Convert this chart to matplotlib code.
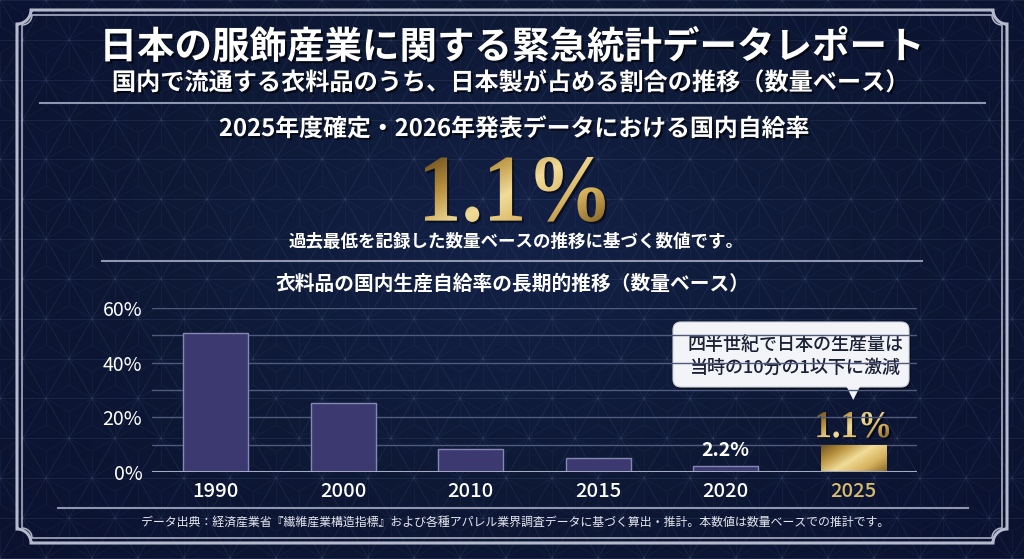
import numpy as np
import matplotlib
matplotlib.use('Agg')
import matplotlib.pyplot as plt
import matplotlib.patches as patches
import matplotlib.patheffects as pe
from matplotlib.collections import LineCollection
from matplotlib.textpath import TextPath
from matplotlib.font_manager import FontProperties
from matplotlib.path import Path
from matplotlib.colors import LinearSegmentedColormap

plt.rcParams['font.family'] = ['Noto Sans CJK JP', 'DejaVu Sans']

# data
years = ['1990', '2000', '2010', '2015', '2020', '2025']
rates = [51.0, 25.2, 8.3, 5.2, 2.2, 1.1]
# the 2025 bar is drawn taller than its value in the original (highlight)
bar_heights = [51.0, 25.2, 8.3, 5.2, 2.2, 10.0]
y_ticks = [0, 20, 40, 60]
y_minor = [10, 30, 50]

title = '日本の服飾産業に関する緊急統計データレポート'
subtitle = '国内で流通する衣料品のうち、日本製が占める割合の推移（数量ベース）'
headline = '2025年度確定・2026年発表データにおける国内自給率'
big_value = '1.1%'
headline_note = '過去最低を記録した数量ベースの推移に基づく数値です。'
chart_title = '衣料品の国内生産自給率の長期的推移（数量ベース）'
callout = ['四半世紀で日本の生産量は', '当時の10分の1以下に激減']
source = 'データ出典：経済産業省『繊維産業構造指標』および各種アパレル業界調査データに基づく算出・推計。本数値は数量ベースでの推計です。'

W, H = 1024, 559
bg = '#0e1936'
frame_col = '#b4b9cb'
bar_col = '#3b3970'
bar_edge = '#8588b2'
gold_label = '#d8bd6e'

gold = LinearSegmentedColormap.from_list(
    'gold', ['#6e5020', '#b8913e', '#f1dc98', '#d6b25e', '#8a6728'])
yy, xx = np.mgrid[0:1:60j, 0:1:120j]
grad = (xx * 0.6 + yy * 0.4)

serif = FontProperties(family='Liberation Serif', weight='bold')

fig = plt.figure(figsize=(W / 100, H / 100), dpi=100)
fig.patch.set_facecolor(bg)

ax_bg = fig.add_axes([0, 0, 1, 1])
ax_bg.set_xlim(0, W)
ax_bg.set_ylim(H, 0)
ax_bg.axis('off')

# soft radial glow
ry, rx = np.mgrid[0:1:60j, 0:1:100j]
r = np.sqrt((rx - 0.5) ** 2 + ((ry - 0.45) * 0.8) ** 2)
glow = LinearSegmentedColormap.from_list('glow', ['#132146', '#0e1936', '#0a1230'])
ax_bg.imshow(r, cmap=glow, extent=(0, W, H, 0), aspect='auto', zorder=0)

# asanoha pattern
s = 46.0
h = s * np.sqrt(3) / 2
segs = []
for j in range(-1, int(H / h) + 2):
    off = (j % 2) * s / 2
    for i in range(-2, int(W / s) + 2):
        A = np.array([i * s + off, j * h])
        B = np.array([i * s + off + s, j * h])
        C = np.array([i * s + off + s / 2, (j + 1) * h])
        D = np.array([i * s + off + 3 * s / 2, (j + 1) * h])
        for tri in [(A, B, C), (B, D, C)]:
            cen = sum(tri) / 3
            for k in range(3):
                segs.append([tri[k], tri[(k + 1) % 3]])
                segs.append([tri[k], cen])
ax_bg.add_collection(LineCollection(segs, colors='#8a9cd0', alpha=0.07, linewidths=0.6, zorder=1))


def frame_poly(x0, y0, x1, y1, rr):
    def arc(cx, cy, t0, t1):
        t = np.linspace(t0, t1, 12)
        return np.column_stack([cx + rr * np.cos(t), cy + rr * np.sin(t)])
    pts = np.vstack([
        arc(x0, y0, np.pi / 2, 0),
        arc(x1, y0, np.pi, np.pi / 2),
        arc(x1, y1, 3 * np.pi / 2, np.pi),
        arc(x0, y1, 0, -np.pi / 2),
    ])
    return patches.Polygon(pts, closed=True, fill=False)


outer = frame_poly(17, 10, 1007, 543, 14)
outer.set(edgecolor=frame_col, linewidth=2.2, zorder=2)
inner = frame_poly(22, 15, 1002, 538, 10)
inner.set(edgecolor=frame_col, linewidth=1.1, zorder=2)
ax_bg.add_patch(outer)
ax_bg.add_patch(inner)

# separators
ax_bg.plot([40, 985], [103, 103], color='#8e96b0', lw=1.5, zorder=2)
ax_bg.plot([102, 922], [261, 261], color='#8e96b0', lw=1.5, zorder=2)
ax_bg.plot([58, 968], [508, 508], color='#8e96b0', lw=1.5, zorder=2)

shadow = [pe.SimplePatchShadow(offset=(1.5, -1.5), shadow_rgbFace='black', alpha=0.6), pe.Normal()]

ax_bg.text(512, 47, title, color='white', fontsize=27, fontweight='bold',
           ha='center', va='center', path_effects=shadow, zorder=5)
ax_bg.text(510, 83, subtitle, color='white', fontsize=17.4, fontweight='bold',
           ha='center', va='center', path_effects=shadow, zorder=5)
ax_bg.text(514, 129, headline, color='white', fontsize=17.2, fontweight='bold',
           ha='center', va='center', path_effects=shadow, zorder=5)
ax_bg.text(516, 242, headline_note, color='white', fontsize=12.6, fontweight='bold',
           ha='center', va='center', zorder=5)
ax_bg.text(513, 284, chart_title, color='white', fontsize=14.2, fontweight='bold',
           ha='center', va='center', zorder=5)
ax_bg.text(515, 522, source, color='#e6e8ef', fontsize=8.6,
           ha='center', va='center', zorder=5)


def gold_text(axis, txt, x0, x1, y_top, y_bot, z=6):
    tp = TextPath((0, 0), txt, size=100, prop=serif)
    bb = tp.get_extents()
    v = tp.vertices.copy()
    sx = (x1 - x0) / bb.width
    sy = (y_bot - y_top) / bb.height
    v[:, 0] = x0 + (v[:, 0] - bb.x0) * sx
    v[:, 1] = y_bot - (v[:, 1] - bb.y0) * sy
    path = Path(v, tp.codes)
    sh = patches.PathPatch(path, facecolor='black', edgecolor='none', alpha=0.5, zorder=z - 1,
                           transform=axis.transData + matplotlib.transforms.Affine2D().translate(2, -2))
    axis.add_patch(sh)
    clip = patches.PathPatch(path, facecolor='none', edgecolor='none', transform=axis.transData)
    axis.add_patch(clip)
    im = axis.imshow(grad, cmap=gold, extent=(x0, x1, y_bot, y_top), origin='upper',
                     aspect='auto', zorder=z)
    im.set_clip_path(clip)


gold_text(ax_bg, big_value, 425, 605, 157, 222)

# chart
ax = fig.add_axes([152 / W, 1 - 472 / H, 765 / W, 164 / H])
ax.patch.set_alpha(0)
x = np.arange(len(years))
for g in y_ticks[1:] + y_minor:
    ax.axhline(g, color='#4f5a7c', lw=1, zorder=1)
ax.axhline(0, color='#a3aac2', lw=2.2, zorder=4)

bars = ax.bar(x, bar_heights, width=0.51, color=bar_col, edgecolor=bar_edge,
              linewidth=1, zorder=2)
hb = bars[-1]
hb.set_facecolor('none')
hb.set_edgecolor('none')
bx = hb.get_x()
gim = ax.imshow(grad, cmap=gold, extent=(bx, bx + hb.get_width(), 0, bar_heights[-1]),
                origin='upper', aspect='auto', zorder=3)
gim.set_clip_path(hb)

ax.set_xlim(-0.5, len(years) - 0.5)
ax.set_ylim(0, 60)
for sp in ax.spines.values():
    sp.set_visible(False)
ax.set_yticks(y_ticks)
ax.set_yticklabels([f'{v}%' for v in y_ticks], color='white', fontsize=14)
ax.set_xticks(x)
ax.set_xticklabels(years, color='white', fontsize=14.5, fontweight='medium')
ax.tick_params(length=0)
ax.tick_params(axis='y', pad=7)
ax.tick_params(axis='x', pad=7)
ax.get_xticklabels()[-1].set_color(gold_label)

ax.text(x[4], bar_heights[4] + 2.2, f'{rates[4]}%', color='white', fontsize=14,
        fontweight='bold', ha='center', va='bottom', zorder=5)

# gold label above the 2025 bar, placed via the chart's data transform
px, py = ax.transData.transform((x[5], bar_heights[5]))
bx_pix, by_pix = ax_bg.transData.inverted().transform((px, py))
gold_text(ax_bg, f'{rates[5]}%', bx_pix - 36, bx_pix + 36, by_pix - 33, by_pix - 7)

# callout bubble
cb_x0, cb_x1, cb_y0, cb_y1 = 673, 909, 322, 387
shadow_box = patches.FancyBboxPatch((cb_x0 + 2, cb_y0 + 3), cb_x1 - cb_x0, cb_y1 - cb_y0,
                                    boxstyle='round,pad=0,rounding_size=8',
                                    facecolor='black', edgecolor='none', alpha=0.35, zorder=6)
box = patches.FancyBboxPatch((cb_x0, cb_y0), cb_x1 - cb_x0, cb_y1 - cb_y0,
                             boxstyle='round,pad=0,rounding_size=8',
                             facecolor='#f3f4f7', edgecolor='#d0d3dc', lw=0.8, zorder=7)
ax_bg.add_patch(shadow_box)
ax_bg.add_patch(box)
tip = patches.Polygon([[bx_pix - 7, cb_y1 - 1], [bx_pix + 7, cb_y1 - 1], [bx_pix, 400]],
                      closed=True, facecolor='#f3f4f7', edgecolor='none', zorder=7)
ax_bg.add_patch(tip)
ax_bg.text(795, 345, callout[0], color='#1a2035', fontsize=13, fontweight='medium',
           ha='center', va='center', zorder=8)
ax_bg.text(795, 368, callout[1], color='#1a2035', fontsize=13, fontweight='medium',
           ha='center', va='center', zorder=8)

ax_bg.set_xlim(0, W)
ax_bg.set_ylim(H, 0)

fig.savefig('out.png', dpi=100, facecolor=bg)
